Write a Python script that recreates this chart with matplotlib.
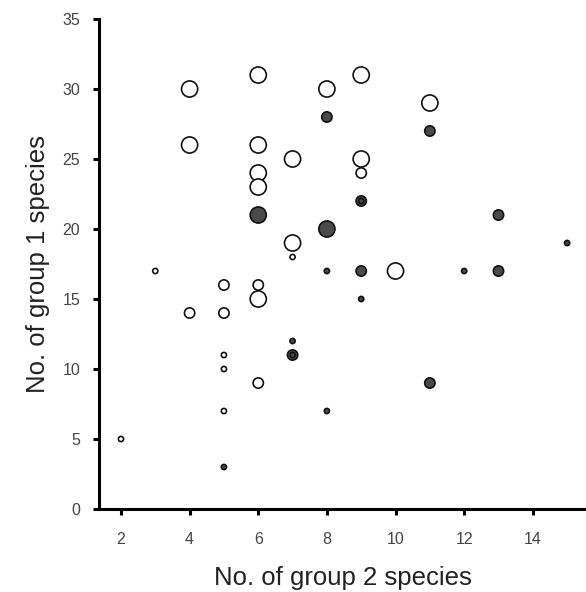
import numpy as np
import matplotlib
matplotlib.use('Agg')
import matplotlib.pyplot as plt

plt.rcParams['font.family'] = ['Liberation Sans', 'DejaVu Sans']

# open circles (white fill)
open_x = [4, 6, 8, 9, 11, 4, 6, 7, 9, 6, 6, 9, 7, 7, 3, 10, 5, 6, 6, 4, 5, 5, 5, 6, 5, 2]
open_y = [30, 31, 30, 31, 29, 26, 26, 25, 25, 24, 23, 24, 19, 18, 17, 17, 16, 16, 15, 14, 14, 11, 10, 9, 7, 5]
open_size = [3, 3, 3, 3, 3, 3, 3, 3, 3, 3, 3, 2, 3, 1, 1, 3, 2, 2, 3, 2, 2, 1, 1, 2, 1, 1]

# filled circles (dark grey)
dark_x = [8, 11, 9, 9, 6, 8, 13, 8, 9, 12, 13, 15, 9, 7, 7, 7, 11, 8, 5]
dark_y = [28, 27, 22, 22, 21, 20, 21, 17, 17, 17, 17, 19, 15, 12, 11, 11, 9, 7, 3]
dark_size = [2, 2, 2, 1, 3, 3, 2, 1, 2, 1, 2, 1, 1, 1, 2, 1, 2, 1, 1]

x_ticks = [2, 4, 6, 8, 10, 12, 14]
y_ticks = [0, 5, 10, 15, 20, 25, 30, 35]

area = {1: 14, 2: 55, 3: 135}

fig = plt.figure(figsize=(5.86, 5.92), dpi=100)
ax = fig.add_axes([99 / 586, 83 / 592, 1 - 99 / 586, 490 / 592])

ax.scatter(open_x, open_y, s=[area[k] for k in open_size], facecolor='white',
           edgecolor='#111111', linewidth=1.2, zorder=3)
ax.scatter(dark_x, dark_y, s=[area[k] for k in dark_size], facecolor='#4a4a4a',
           edgecolor='#111111', linewidth=1.2, zorder=3)

ax.set_xlim(1.36, 15.55)
ax.set_ylim(0, 35)
ax.set_xticks(x_ticks)
ax.set_yticks(y_ticks)

for side in ['top', 'right']:
    ax.spines[side].set_visible(False)
for side in ['left', 'bottom']:
    ax.spines[side].set_linewidth(2.2)
    ax.spines[side].set_color('black')

ax.tick_params(axis='both', direction='out', length=4.5, width=2.2,
               labelsize=11.5, labelcolor='#444444')
ax.tick_params(axis='x', pad=12)
ax.tick_params(axis='y', pad=9)

ax.set_xlabel('No. of group 2 species', fontsize=18.5, color='#222222', labelpad=14)
ax.set_ylabel('No. of group 1 species', fontsize=18.5, color='#222222', labelpad=9)

fig.savefig('out.png', dpi=100)
